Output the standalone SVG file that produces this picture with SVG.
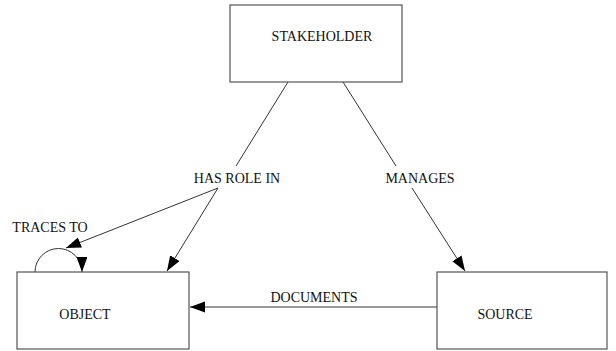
<svg xmlns="http://www.w3.org/2000/svg" width="616" height="351" viewBox="0 0 616 351">
<style>
.box{fill:#fff;stroke:#555;stroke-width:1.2}
.lbl{font-family:"Liberation Serif","Times New Roman",serif;font-size:14px;fill:#111}
.edge{fill:none;stroke:#333;stroke-width:1}
</style>
<defs>
<marker id="arr" markerUnits="userSpaceOnUse" markerWidth="16" markerHeight="12" refX="15" refY="5.5" orient="auto">
<path d="M0,0 L15,5.5 L0,11 Z" fill="#000"/>
</marker>
</defs>
<rect width="616" height="351" fill="#fff"/>
<g id="connectors">
<line class="edge" x1="288" y1="82" x2="236" y2="166"/>
<line class="edge" x1="343" y1="82" x2="396" y2="166"/>
<line class="edge" x1="218" y1="188" x2="66" y2="248" marker-end="url(#arr)"/>
<line class="edge" x1="218" y1="188" x2="167" y2="271" marker-end="url(#arr)"/>
<line class="edge" x1="412" y1="188" x2="465" y2="271" marker-end="url(#arr)"/>
<line class="edge" x1="437" y1="307" x2="190" y2="307" marker-end="url(#arr)"/>
<path class="edge" d="M35,272 A23.5,23.5 0 0 1 82,272" marker-end="url(#arr)"/>
<text class="lbl" x="237" y="183" text-anchor="middle">HAS ROLE IN</text>
<text class="lbl" x="420" y="183" text-anchor="middle">MANAGES</text>
<text class="lbl" x="314" y="302" text-anchor="middle">DOCUMENTS</text>
<text class="lbl" x="50" y="232" text-anchor="middle">TRACES TO</text>
</g>
<g id="stakeholder">
<rect class="box" x="230" y="5" width="172" height="77"/>
<text class="lbl" x="322" y="41" text-anchor="middle">STAKEHOLDER</text>
</g>
<g id="object">
<rect class="box" x="17" y="272" width="172" height="77"/>
<text class="lbl" x="85" y="319" text-anchor="middle">OBJECT</text>
</g>
<g id="source">
<rect class="box" x="437" y="272" width="170" height="77"/>
<text class="lbl" x="505" y="319" text-anchor="middle">SOURCE</text>
</g>
</svg>
